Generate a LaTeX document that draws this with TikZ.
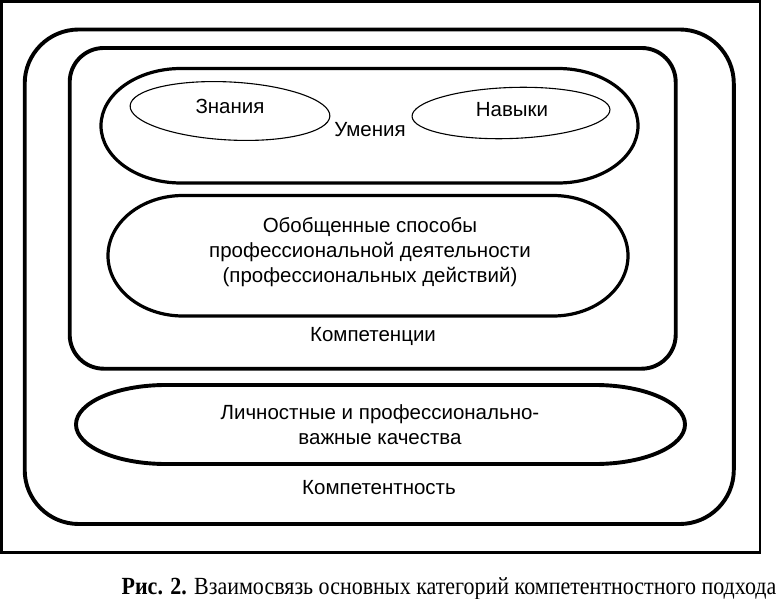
\documentclass[tikz,border=0pt]{standalone}
\usepackage{fontspec}
\setmainfont{Liberation Sans}
\newfontfamily\capfont{Liberation Serif}
\usetikzlibrary{shapes.geometric}
\newcommand\ovbox[7][]{%
  \draw[#1] ({#2+#6},#3) -- ({#4-#6},#3)
    arc[start angle=90,end angle=-90,x radius=#6pt,y radius=#7pt]
    -- ({#2+#6},#5)
    arc[start angle=270,end angle=90,x radius=#6pt,y radius=#7pt] -- cycle;}
\begin{document}
\begin{tikzpicture}[x=1pt,y=-1pt,
  frameline/.style={line width=2.7pt},
  thickline/.style={line width=3.9pt},
  midline/.style={line width=3.2pt},
  thinline/.style={line width=1.1pt},
  lbl/.style={font=\fontsize{20.5}{25}\selectfont, align=center, inner sep=0pt},
  oval/.style={draw, thinline, ellipse, inner sep=0pt}]
\useasboundingbox (0,0) rectangle (782,599);
% outer frame
\draw[frameline] (1.3,1.3) rectangle (760,552.5);
% Компетентность
\draw[thickline, rounded corners=54pt] (24.7,29.5) rectangle (733.8,524);
% Компетенции
\draw[thickline, rounded corners=34pt] (69.7,48) rectangle (675.7,368.7);
% Умения
\ovbox[midline]{101}{68.5}{638}{183}{80}{57.25}
% Обобщенные способы
\ovbox[midline]{108}{195.5}{628}{316}{75}{60.25}
% Личностные
\ovbox[thickline]{76}{385}{685}{464}{90}{39.5}
% ellipses
\node[oval, minimum width=200pt, minimum height=58pt, rotate=-3] (znE) at (230,111) {};
\node[oval, minimum width=198pt, minimum height=51pt, rotate=2] (navE) at (511,113) {};
% labels
\node[lbl] (zn) at (230,106) {Знания};
\node[lbl] (nav) at (512,110) {Навыки};
\node[lbl] (um) at (370,130) {Умения};
\node[lbl] (ob) at (370,252) {Обобщенные способы\\профессиональной деятельности\\(профессиональных действий)};
\node[lbl] (komp) at (373,336) {Компетенции};
\node[lbl] (lich) at (380,425) {Личностные и профессионально-\\важные качества};
\node[lbl] (kt) at (379,488) {Компетентность};
\node[anchor=base, inner sep=0pt, font=\capfont\fontsize{22}{26}\selectfont] (cap) at (449,594)
  {\scalebox{1}[1.12]{\textbf{Рис. 2.} Взаимосвязь основных категорий компетентностного подхода}};
\end{tikzpicture}
\end{document}
